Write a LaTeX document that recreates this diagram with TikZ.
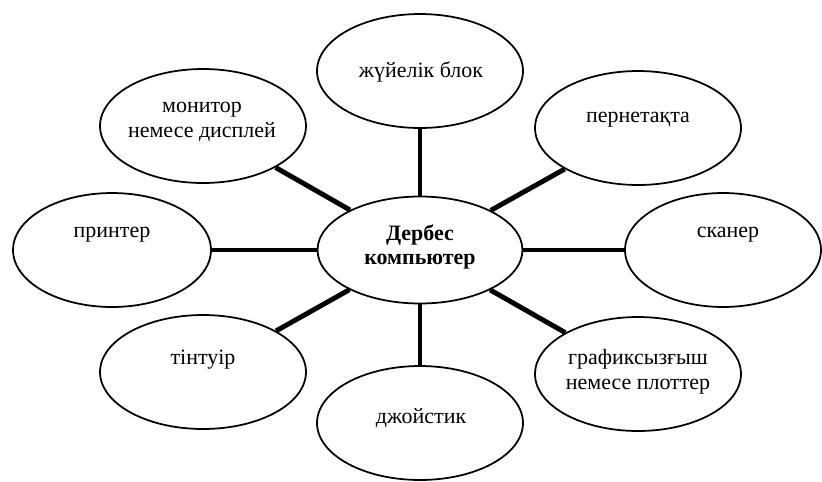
\documentclass[tikz,border=0pt]{standalone}
\usepackage{fontspec}
\setmainfont{Liberation Serif}
\usepackage{tikz}
\usetikzlibrary{shapes.geometric, positioning}
\definecolor{ink}{RGB}{0, 0, 0}
\tikzset{
    blob/.style={ellipse, draw=ink, line width=1pt, minimum width=4.12cm, minimum height=2.28cm, inner sep=0pt},
    hub/.style={ellipse, draw=ink, line width=1pt, minimum width=4.1cm, minimum height=2.14cm, inner sep=0pt},
    caption/.style={align=center, inner sep=0pt, font=\fontsize{12.5}{14}\selectfont},
    link/.style={line width=2.8pt, ink}
}
\begin{document}
\begin{tikzpicture}[x=0.02cm, y=-0.02cm]
        \useasboundingbox (0,0) rectangle (822,481);

        % Central ellipse
        \node[hub] (pc) at (420, 250) {};

        % Devices around it
        \node[blob] (unit) at (420, 71) {};
        \node[blob] (mon) at (203, 126) {};
        \node[blob] (keyb) at (638, 128) {};
        \node[blob, minimum width=3.96cm] (prn) at (112, 250) {};
        \node[blob, minimum width=3.92cm] (scan) at (723, 250) {};
        \node[blob] (mouse) at (203, 372) {};
        \node[blob] (joy) at (420, 423) {};
        \node[blob] (plot) at (638, 374) {};

        % Links
        \draw[link] (pc) -- (unit);
        \draw[link] (pc) -- (mon);
        \draw[link] (pc) -- (keyb);
        \draw[link] (pc) -- (prn);
        \draw[link] (pc) -- (scan);
        \draw[link] (pc) -- (mouse);
        \draw[link] (pc) -- (joy);
        \draw[link] (pc) -- (plot);

        % Texts
        \node[caption, font=\fontsize{12.5}{14}\selectfont\bfseries] (pc-t) at (420, 247) {Дербес\\компьютер};
        \node[caption] (unit-t) at (421, 72) {жүйелік блок};
        \node[caption] (mon-t) at (202, 122) {монитор\\немесе дисплей};
        \node[caption] (keyb-t) at (638, 120) {пернетақта};
        \node[caption] (prn-t) at (112, 235) {принтер};
        \node[caption] (scan-t) at (728, 235) {сканер};
        \node[caption] (mouse-t) at (203, 360) {тінтуір};
        \node[caption] (joy-t) at (421, 418) {джойстик};
        \node[caption] (plot-t) at (638, 372) {графиксызғыш\\немесе плоттер};
    \end{tikzpicture}
\end{document}
